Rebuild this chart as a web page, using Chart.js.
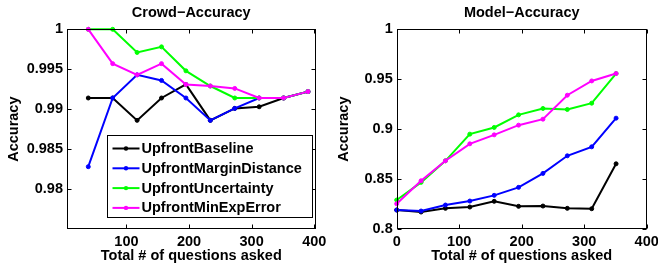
<!DOCTYPE html>
<html>
<head>
<meta charset="utf-8">
<script src="https://cdn.jsdelivr.net/npm/chart.js@4/dist/chart.umd.min.js"></script>
<style>
  body { margin: 0; background: #fff; }
  #wrap { position: relative; width: 658px; height: 270px; }
  canvas { position: absolute; top: 0; }
</style>
</head>
<body>
<div id="wrap">
  <canvas id="crowd" width="330" height="270" style="left:0"></canvas>
  <canvas id="model" width="328" height="270" style="left:330px"></canvas>
</div>
<script>
// Serie e colori
const seriesNames = ['UpfrontBaseline', 'UpfrontMarginDistance', 'UpfrontUncertainty', 'UpfrontMinExpError'];
const seriesColors = ['#000000', '#0000ff', '#00ff00', '#ff00ff'];

// Crowd-Accuracy
const crowdX = [39, 78, 117, 156, 195, 234, 273, 312, 351, 390];
const crowdBaseline = [0.9914, 0.9914, 0.9886, 0.9914, 0.9931, 0.9886, 0.9901, 0.9903, 0.9914, 0.9922];
const crowdMargin = [0.9828, 0.9914, 0.9943, 0.9936, 0.9914, 0.9886, 0.9901, 0.9914, 0.9914, 0.9922];
const crowdUncert = [1.0, 1.0, 0.9971, 0.9978, 0.9948, 0.9929, 0.9914, 0.9914, 0.9914, 0.9922];
const crowdMinExp = [1.0, 0.9957, 0.9943, 0.9957, 0.9931, 0.9929, 0.9926, 0.9914, 0.9914, 0.9922];
const crowdXTicks = [100, 200, 300, 400];
const crowdYTicks = [0.98, 0.985, 0.99, 0.995, 1];

// Model-Accuracy
const modelX = [0, 39, 78, 117, 156, 195, 234, 273, 312, 351];
const modelBaseline = [0.819, 0.817, 0.8207, 0.822, 0.8277, 0.8227, 0.823, 0.8207, 0.8203, 0.8653];
const modelMargin = [0.819, 0.818, 0.824, 0.828, 0.8337, 0.8417, 0.8557, 0.8733, 0.8823, 0.911];
const modelUncert = [0.829, 0.8467, 0.8683, 0.895, 0.9017, 0.9143, 0.9207, 0.9197, 0.926, 0.9557];
const modelMinExp = [0.8253, 0.8483, 0.8683, 0.8853, 0.8943, 0.904, 0.91, 0.934, 0.9483, 0.9557];
const modelXTicks = [0, 100, 200, 300, 400];
const modelYTicks = [0.8, 0.85, 0.9, 0.95, 1];

const FONT = '"Liberation Sans", Arial, Helvetica, sans-serif';
const fontBold = { family: FONT, size: 14.5, weight: 'bold' };

function makeDatasets(xs, seriesList) {
    return seriesList.map((ys, i) => ({
        label: seriesNames[i],
        data: xs.map((x, j) => ({ x: x, y: ys[j] })),
        borderColor: seriesColors[i],
        backgroundColor: seriesColors[i],
        borderWidth: 2,
        pointRadius: 2,
        pointBorderWidth: 1,
        tension: 0,
        clip: false,
        order: seriesList.length - i
    }));
}

// Box, tacche interne, titolo e legenda in stile MATLAB
const matlabPlugin = {
    id: 'matlab',
    afterDraw(chart, args, opts) {
        const ctx = chart.ctx;
        const ca = chart.chartArea;
        const xs = chart.scales.x, ys = chart.scales.y;
        ctx.save();
        ctx.strokeStyle = '#000';
        ctx.lineWidth = 1;
        const l = Math.round(ca.left) + 0.5, r = Math.round(ca.right) - 0.5;
        const t = Math.round(ca.top) + 0.5, b = Math.round(ca.bottom) - 0.5;
        ctx.strokeRect(l, t, r - l, b - t);
        ctx.beginPath();
        xs.ticks.forEach(tk => {
            const px = Math.round(xs.getPixelForValue(tk.value)) + 0.5;
            ctx.moveTo(px, b); ctx.lineTo(px, b - 4);
            ctx.moveTo(px, t); ctx.lineTo(px, t + 4);
        });
        ys.ticks.forEach(tk => {
            const py = Math.round(ys.getPixelForValue(tk.value)) + 0.5;
            ctx.moveTo(l, py); ctx.lineTo(l + 4, py);
            ctx.moveTo(r, py); ctx.lineTo(r - 4, py);
        });
        ctx.stroke();

        // titolo
        ctx.fillStyle = '#000';
        ctx.font = 'bold 14.5px ' + FONT;
        ctx.textAlign = 'center';
        ctx.textBaseline = 'middle';
        ctx.fillText(opts.title, (ca.left + ca.right) / 2, 13);

        // legenda
        if (opts.legend) {
            const bx = 107.5, by = 135.5, bw = 205, bh = 82;
            ctx.fillStyle = '#fff';
            ctx.fillRect(bx, by, bw, bh);
            ctx.strokeRect(bx, by, bw, bh);
            ctx.textAlign = 'left';
            seriesNames.forEach((name, i) => {
                const yy = 148.5 + i * 19.8;
                ctx.strokeStyle = seriesColors[i];
                ctx.fillStyle = seriesColors[i];
                ctx.lineWidth = 2;
                ctx.beginPath();
                ctx.moveTo(112.5, yy); ctx.lineTo(139.5, yy);
                ctx.stroke();
                ctx.beginPath();
                ctx.arc(126, yy, 2.2, 0, Math.PI * 2);
                ctx.fill();
                ctx.fillStyle = '#000';
                ctx.fillText(name, 141.5, yy + 0.5);
            });
        }
        ctx.restore();
    }
};

function makeChart(canvasId, cfg) {
    return new Chart(document.getElementById(canvasId).getContext('2d'), {
        type: 'line',
        data: { datasets: makeDatasets(cfg.xs, cfg.series) },
        options: {
            responsive: false,
            animation: false,
            devicePixelRatio: 1,
            layout: { padding: { top: 29.3, right: cfg.padRight, bottom: 0, left: 0 } },
            plugins: {
                legend: { display: false },
                tooltip: { enabled: false },
                matlab: { title: cfg.title, legend: cfg.legend }
            },
            scales: {
                x: {
                    type: 'linear',
                    min: cfg.xMin,
                    max: cfg.xMax,
                    grid: { display: false, drawTicks: false },
                    border: { display: false },
                    ticks: { color: '#000', font: fontBold, padding: 4, maxRotation: 0 },
                    afterBuildTicks: s => { s.ticks = cfg.xTicks.map(v => ({ value: v })); },
                    afterFit: s => { s.height = 41; s.paddingLeft = 0; s.paddingRight = 0; },
                    title: {
                        display: true, text: 'Total # of questions asked', color: '#000',
                        font: fontBold, padding: { top: 0, bottom: 5.3 }
                    }
                },
                y: {
                    min: cfg.yMin,
                    max: cfg.yMax,
                    grid: { display: false, drawTicks: false },
                    border: { display: false },
                    ticks: { color: '#000', font: fontBold, padding: 4, callback: v => String(v) },
                    afterBuildTicks: s => { s.ticks = cfg.yTicks.map(v => ({ value: v })); },
                    afterFit: s => { s.width = cfg.yWidth; s.paddingTop = 0; s.paddingBottom = 0; },
                    title: {
                        display: true, text: 'Accuracy', color: '#000',
                        font: fontBold, padding: { top: 5.3, bottom: 0 }
                    }
                }
            }
        },
        plugins: [matlabPlugin]
    });
}

makeChart('crowd', {
    title: 'Crowd\u2212Accuracy',
    xs: crowdX,
    series: [crowdBaseline, crowdMargin, crowdUncert, crowdMinExp],
    xMin: 5, xMax: 402, yMin: 0.975, yMax: 1,
    xTicks: crowdXTicks, yTicks: crowdYTicks,
    yWidth: 67, padRight: 14.5, legend: true
});

makeChart('model', {
    title: 'Model\u2212Accuracy',
    xs: modelX,
    series: [modelBaseline, modelMargin, modelUncert, modelMinExp],
    xMin: 0, xMax: 400, yMin: 0.8, yMax: 1,
    xTicks: modelXTicks, yTicks: modelYTicks,
    yWidth: 66.7, padRight: 11.3, legend: false
});
</script>
</body>
</html>
